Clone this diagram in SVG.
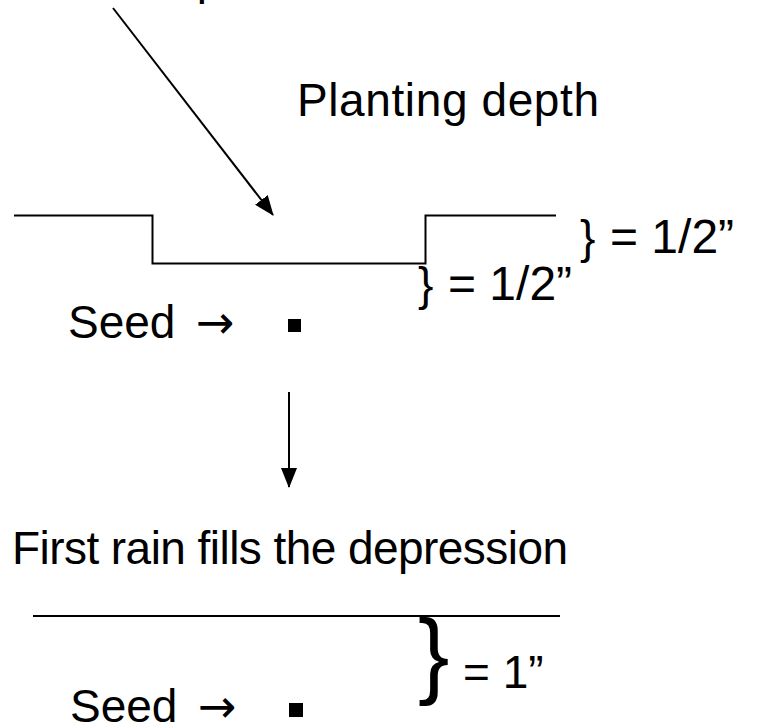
<svg xmlns="http://www.w3.org/2000/svg" width="761" height="727" viewBox="0 0 761 727">
<defs>
<style>
text{font-family:"Liberation Sans",Arial,sans-serif;font-size:46px;fill:#000}
.arr{font-family:"DejaVu Sans",sans-serif;font-size:46px}
.lbl{font-size:48px}
.ln{fill:none;stroke:#000;stroke-width:2}
</style>
<marker id="ah" markerWidth="20" markerHeight="16" refX="19" refY="8" orient="auto" markerUnits="userSpaceOnUse">
<path d="M0,0 L20,8 L0,16 z" fill="#000"/>
</marker>
</defs>
<rect width="761" height="727" fill="#fff"/>
<g id="top-label"><text x="138" y="-6">Depression</text></g>
<g id="planting-label"><text x="297" y="116" textLength="302">Planting depth</text></g>
<g id="ground-before"><path class="ln" d="M14,215.5 H152.5 V263.5 H425.5 V215.5 H556"/></g>
<g id="brace-upper"><text x="580" y="253">}</text><text class="lbl" x="610" y="253">= 1/2”</text></g>
<g id="brace-lower"><text x="418" y="300">}</text><text class="lbl" x="448" y="300">= 1/2”</text></g>
<g id="seed-before"><text x="68" y="338">Seed</text><text class="arr" x="196" y="338">→</text><rect x="288" y="319" width="13" height="13" fill="#000"/></g>
<g id="rain-label"><text x="12" y="564" textLength="556">First rain fills the depression</text></g>
<g id="ground-after"><path class="ln" d="M33,616 H560"/></g>
<g id="brace-one"><text x="418" y="686" style="font-size:94px">}</text><text x="463" y="688">= 1”</text></g>
<g id="seed-after"><text x="70" y="722">Seed</text><text class="arr" x="198" y="722">→</text><rect x="289" y="703" width="14" height="14" fill="#000"/></g>
<g id="connectors">
<line class="ln" x1="113" y1="8" x2="273" y2="215" marker-end="url(#ah)"/>
<line class="ln" x1="289" y1="392" x2="289" y2="487" marker-end="url(#ah)"/>
</g>
</svg>
